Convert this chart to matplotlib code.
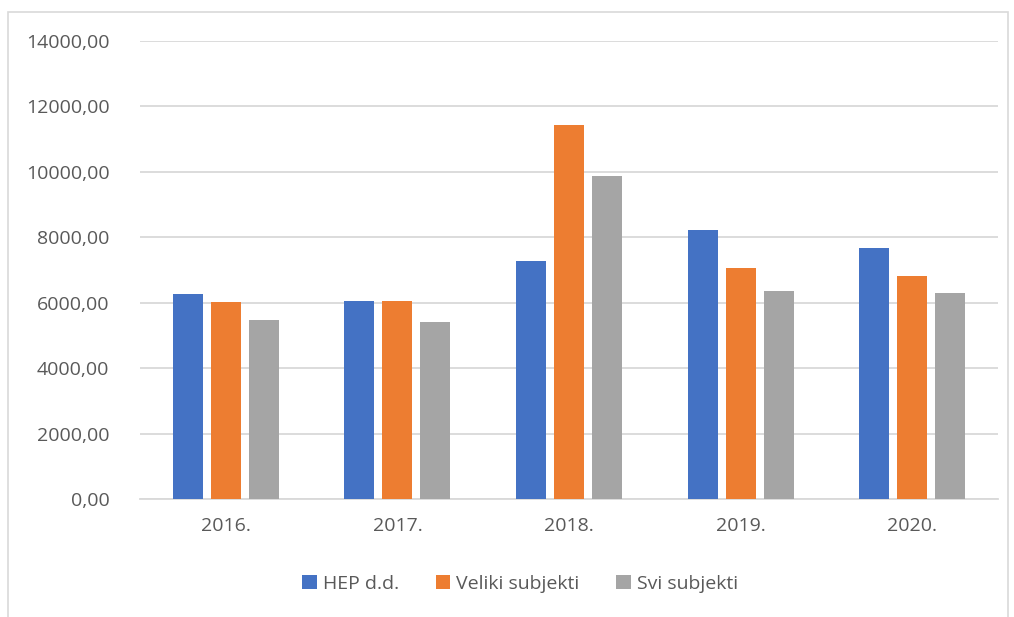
import matplotlib.pyplot as plt
import numpy as np
from matplotlib.patches import Rectangle

plt.rcParams['font.family'] = ['Open Sans', 'DejaVu Sans']

years = ['2016.', '2017.', '2018.', '2019.', '2020.']
hep = [6275, 6065, 7290, 8225, 7665]
veliki = [6010, 6060, 11440, 7060, 6815]
svi = [5480, 5410, 9860, 6355, 6285]

series = [('HEP d.d.', hep, '#4472C4'),
          ('Veliki subjekti', veliki, '#ED7D31'),
          ('Svi subjekti', svi, '#A5A5A5')]

fig = plt.figure(figsize=(10.14, 6.17), dpi=100)
ax = fig.add_axes([140 / 1014, 1 - 499 / 617, 858 / 1014, 458 / 617])

# chart border like the Excel chart area
fig.patches.append(Rectangle((8 / 1014, -0.05), 1000 / 1014, 1 - 12 / 617 + 0.05,
                             transform=fig.transFigure, fill=False,
                             edgecolor='#d9d9d9', linewidth=1.2))

x = np.arange(len(years))
w = 0.175
step = 0.221
for i, (name, vals, col) in enumerate(series):
    ax.bar(x + (i - 1) * step, vals, width=w, color=col, label=name, zorder=3)

ax.set_xlim(-0.5, len(years) - 0.5)
ax.set_ylim(0, 14000)
ax.set_yticks(np.arange(0, 14001, 2000))
ax.set_yticklabels([f'{v},00' for v in range(0, 14001, 2000)])
ax.set_xticks(x)
ax.set_xticklabels(years)
ax.grid(axis='y', color='#d9d9d9', linewidth=1.3, zorder=0)
for s in ['top', 'right', 'left']:
    ax.spines[s].set_visible(False)
ax.spines['bottom'].set_color('#d9d9d9')
ax.spines['bottom'].set_linewidth(1.3)
ax.tick_params(axis='both', length=0, labelsize=14, colors='#595959')
ax.tick_params(axis='y', pad=22)
ax.tick_params(axis='x', pad=13)

fig.legend(loc='center', bbox_to_anchor=(520 / 1014, 1 - 584 / 617), ncol=3,
           frameon=False, fontsize=14, labelcolor='#595959',
           handlelength=0.75, handleheight=0.75, handletextpad=0.3, columnspacing=1.9)

fig.savefig('out.png', dpi=100)
